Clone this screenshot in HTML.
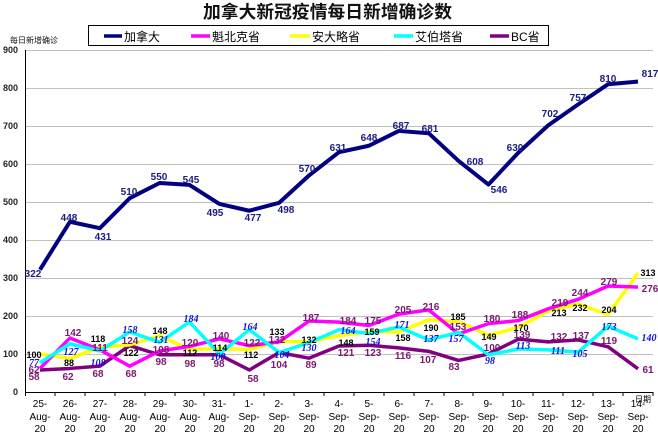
<!DOCTYPE html>
<html><head><meta charset="utf-8"><style>
html,body{margin:0;padding:0;background:#fff;}
svg{display:block;}
.t{font-family:"Liberation Sans","Noto Sans CJK SC",sans-serif;}
.ca{font:bold 10px "Liberation Sans",sans-serif;fill:#1c1c80;text-anchor:middle;}
.pu{font:bold 10px "Liberation Sans",sans-serif;fill:#7a1a6e;text-anchor:middle;}
.bk{font:bold 9px "Liberation Sans",sans-serif;fill:#000;text-anchor:middle;}
.bl{font:italic bold 10px "Liberation Serif",serif;fill:#1010e0;text-anchor:middle;}
.yt{font:bold 9px "Liberation Sans",sans-serif;fill:#222;text-anchor:end;}
.xt{font:10px "Liberation Sans",sans-serif;fill:#000;text-anchor:middle;}
</style></head><body>
<svg width="658" height="435" viewBox="0 0 658 435" xmlns="http://www.w3.org/2000/svg">
<text x="203" y="18" class="t" textLength="249" lengthAdjust="spacingAndGlyphs" style="font-weight:bold;font-size:17.5px;fill:#111">加拿大新冠疫情每日新增确诊数</text>
<text x="10" y="43" class="t" style="font-size:8px;fill:#111">每日新增确诊</text>
<rect x="88.5" y="25.5" width="460" height="20" fill="#fff" stroke="#000" stroke-width="1"/>
<g stroke-width="3.5">
<line x1="104" y1="36" x2="122" y2="36" stroke="#000080"/>
<line x1="191" y1="36" x2="210" y2="36" stroke="#ff00ff"/>
<line x1="290" y1="36" x2="310" y2="36" stroke="#ffff00"/>
<line x1="394" y1="36" x2="413" y2="36" stroke="#00ffff"/>
<line x1="490" y1="36" x2="509" y2="36" stroke="#800080"/>
</g>
<g class="t" style="font-size:12px;fill:#000">
<text x="124" y="41">加拿大</text><text x="212" y="41">魁北克省</text><text x="312" y="41">安大略省</text><text x="415" y="41">艾伯塔省</text><text x="511" y="41">BC省</text>
</g>
<g stroke="#c0c0c0" stroke-width="1">
<line x1="25" y1="50.5" x2="653" y2="50.5"/><line x1="25" y1="88.5" x2="653" y2="88.5"/><line x1="25" y1="126.5" x2="653" y2="126.5"/>
<line x1="25" y1="164.5" x2="653" y2="164.5"/><line x1="25" y1="202.5" x2="653" y2="202.5"/><line x1="25" y1="240.5" x2="653" y2="240.5"/>
<line x1="25" y1="278.5" x2="653" y2="278.5"/><line x1="25" y1="316.5" x2="653" y2="316.5"/><line x1="25" y1="354.5" x2="653" y2="354.5"/>
</g>
<line x1="25.5" y1="50" x2="25.5" y2="392" stroke="#000"/>
<line x1="25" y1="392.5" x2="653" y2="392.5" stroke="#000"/>
<g stroke="#000">
<line x1="25.5" y1="392" x2="25.5" y2="396"/><line x1="55" y1="392" x2="55" y2="396"/><line x1="85" y1="392" x2="85" y2="396"/><line x1="115" y1="392" x2="115" y2="396"/><line x1="145" y1="392" x2="145" y2="396"/><line x1="175" y1="392" x2="175" y2="396"/><line x1="204" y1="392" x2="204" y2="396"/><line x1="234" y1="392" x2="234" y2="396"/><line x1="264" y1="392" x2="264" y2="396"/><line x1="294" y1="392" x2="294" y2="396"/><line x1="324" y1="392" x2="324" y2="396"/><line x1="354" y1="392" x2="354" y2="396"/><line x1="384" y1="392" x2="384" y2="396"/><line x1="414" y1="392" x2="414" y2="396"/><line x1="444" y1="392" x2="444" y2="396"/><line x1="473" y1="392" x2="473" y2="396"/><line x1="503" y1="392" x2="503" y2="396"/><line x1="533" y1="392" x2="533" y2="396"/><line x1="563" y1="392" x2="563" y2="396"/><line x1="593" y1="392" x2="593" y2="396"/><line x1="623" y1="392" x2="623" y2="396"/><line x1="653" y1="392" x2="653" y2="396"/>
</g>
<g class="yt">
<text x="18" y="53">900</text><text x="18" y="91">800</text><text x="18" y="129">700</text><text x="18" y="167">600</text><text x="18" y="205">500</text><text x="18" y="243">400</text><text x="18" y="281">300</text><text x="18" y="319">200</text><text x="18" y="357">100</text><text x="18" y="395">0</text>
</g>
<g transform="translate(40,392) scale(29.9,-0.38)" fill="none" stroke-linejoin="round">
<polyline vector-effect="non-scaling-stroke" stroke="#800080" stroke-width="3.5" points="0,58 1,62 2,68 3,122 4,98 5,98 6,98 7,58 8,104 9,89 10,121 11,123 12,116 13,107 14,83 15,100 16,139 17,132 18,137 19,119 20,61"/>
<polyline vector-effect="non-scaling-stroke" stroke="#ffff00" stroke-width="3.5" points="0,100 1,88 2,118 3,124 4,148 5,112 6,114 7,112 8,133 9,132 10,148 11,159 12,158 13,190 14,185 15,149 16,170 17,213 18,232 19,204 20,313"/>
<polyline vector-effect="non-scaling-stroke" stroke="#ff00ff" stroke-width="3.5" points="0,62 1,142 2,111 3,68 4,108 5,120 6,140 7,122 8,132 9,187 10,184 11,175 12,205 13,216 14,153 15,180 16,188 17,219 18,244 19,279 20,276"/>
<polyline vector-effect="non-scaling-stroke" stroke="#00ffff" stroke-width="3.5" points="0,77 1,127 2,108 3,158 4,131 5,184 6,100 7,164 8,104 9,130 10,164 11,154 12,171 13,137 14,157 15,98 16,113 17,111 18,105 19,173 20,140"/>
<polyline vector-effect="non-scaling-stroke" stroke="#000080" stroke-width="4" points="0,322 1,448 2,431 3,510 4,550 5,545 6,495 7,477 8,498 9,570 10,631 11,648 12,687 13,681 14,608 15,546 16,630 17,702 18,757 19,810 20,817"/>
</g>
<g class="ca">
<text x="33" y="277">322</text><text x="69" y="221">448</text><text x="103" y="240">431</text><text x="129" y="195">510</text><text x="159" y="180">550</text><text x="191" y="183">545</text><text x="215" y="216">495</text><text x="253" y="221">477</text><text x="286" y="213">498</text><text x="307" y="172">570</text><text x="338" y="151">631</text><text x="369" y="141">648</text><text x="401" y="129">687</text><text x="430" y="132">681</text><text x="475" y="165">608</text><text x="499" y="193">546</text><text x="515" y="151">630</text><text x="550" y="117">702</text><text x="578" y="101">757</text><text x="608" y="82">810</text><text x="650" y="77">817</text>
</g>
<g class="pu">
<text x="34" y="373">62</text><text x="34" y="380">58</text><text x="73" y="336">142</text><text x="68" y="380">62</text><text x="100" y="351">111</text><text x="98" y="377">68</text><text x="130" y="344">124</text><text x="131" y="377">68</text><text x="161" y="353">108</text><text x="161" y="365">98</text><text x="190" y="346">120</text><text x="190" y="367">98</text><text x="221" y="339">140</text><text x="219" y="367">98</text><text x="252" y="346">122</text><text x="253" y="382">58</text><text x="277" y="343">132</text><text x="279" y="368">104</text><text x="311" y="321">187</text><text x="311" y="368">89</text><text x="348" y="324">184</text><text x="346" y="356">121</text><text x="373" y="324">175</text><text x="373" y="356">123</text><text x="403" y="313">205</text><text x="403" y="359">116</text><text x="431" y="310">216</text><text x="428" y="363">107</text><text x="458" y="330">153</text><text x="454" y="370">83</text><text x="492" y="322">180</text><text x="492" y="351">100</text><text x="520" y="318">188</text><text x="522" y="338">139</text><text x="560" y="306">219</text><text x="559" y="340">132</text><text x="580" y="296">244</text><text x="581" y="339">137</text><text x="609" y="285">279</text><text x="609" y="344">119</text><text x="650" y="292">276</text><text x="648" y="373">61</text>
</g>
<g class="bk">
<text x="34" y="358">100</text><text x="69" y="366">88</text><text x="98" y="342">118</text><text x="131" y="356">122</text><text x="160" y="334">148</text><text x="190" y="356">112</text><text x="220" y="351">114</text><text x="251" y="358">112</text><text x="277" y="335">133</text><text x="309" y="343">132</text><text x="346" y="346">148</text><text x="372" y="335">159</text><text x="403" y="341">158</text><text x="431" y="331">190</text><text x="458" y="320">185</text><text x="489" y="340">149</text><text x="521" y="331">170</text><text x="559" y="316">213</text><text x="580" y="311">232</text><text x="609" y="313">204</text><text x="648" y="276">313</text>
</g>
<g class="bl">
<text x="34" y="366">77</text><text x="71" y="355">127</text><text x="98" y="366">108</text><text x="130" y="333">158</text><text x="161" y="343">131</text><text x="191" y="322">184</text><text x="218" y="360">100</text><text x="250" y="330">164</text><text x="282" y="358">104</text><text x="309" y="351">130</text><text x="348" y="334">164</text><text x="373" y="345">154</text><text x="402" y="328">171</text><text x="431" y="342">137</text><text x="456" y="342">157</text><text x="490" y="364">98</text><text x="523" y="349">113</text><text x="558" y="354">111</text><text x="580" y="357">105</text><text x="609" y="330">173</text><text x="649" y="341">140</text>
</g>
<g class="xt">
<text x="40" y="407">25-</text><text x="40" y="420">Aug-</text><text x="40" y="432">20</text>
<text x="70" y="407">26-</text><text x="70" y="420">Aug-</text><text x="70" y="432">20</text>
<text x="100" y="407">27-</text><text x="100" y="420">Aug-</text><text x="100" y="432">20</text>
<text x="130" y="407">28-</text><text x="130" y="420">Aug-</text><text x="130" y="432">20</text>
<text x="160" y="407">29-</text><text x="160" y="420">Aug-</text><text x="160" y="432">20</text>
<text x="190" y="407">30-</text><text x="190" y="420">Aug-</text><text x="190" y="432">20</text>
<text x="219" y="407">31-</text><text x="219" y="420">Aug-</text><text x="219" y="432">20</text>
<text x="249" y="407">1-</text><text x="249" y="420">Sep-</text><text x="249" y="432">20</text>
<text x="279" y="407">2-</text><text x="279" y="420">Sep-</text><text x="279" y="432">20</text>
<text x="309" y="407">3-</text><text x="309" y="420">Sep-</text><text x="309" y="432">20</text>
<text x="339" y="407">4-</text><text x="339" y="420">Sep-</text><text x="339" y="432">20</text>
<text x="369" y="407">5-</text><text x="369" y="420">Sep-</text><text x="369" y="432">20</text>
<text x="399" y="407">6-</text><text x="399" y="420">Sep-</text><text x="399" y="432">20</text>
<text x="429" y="407">7-</text><text x="429" y="420">Sep-</text><text x="429" y="432">20</text>
<text x="459" y="407">8-</text><text x="459" y="420">Sep-</text><text x="459" y="432">20</text>
<text x="488" y="407">9-</text><text x="488" y="420">Sep-</text><text x="488" y="432">20</text>
<text x="518" y="407">10-</text><text x="518" y="420">Sep-</text><text x="518" y="432">20</text>
<text x="548" y="407">11-</text><text x="548" y="420">Sep-</text><text x="548" y="432">20</text>
<text x="578" y="407">12-</text><text x="578" y="420">Sep-</text><text x="578" y="432">20</text>
<text x="608" y="407">13-</text><text x="608" y="420">Sep-</text><text x="608" y="432">20</text>
<text x="638" y="407">14-</text><text x="638" y="420">Sep-</text><text x="638" y="432">20</text>
</g>
<text x="643" y="402" class="t" style="font-size:8px;text-anchor:middle;fill:#000">日期</text>
</svg>
</body></html>
